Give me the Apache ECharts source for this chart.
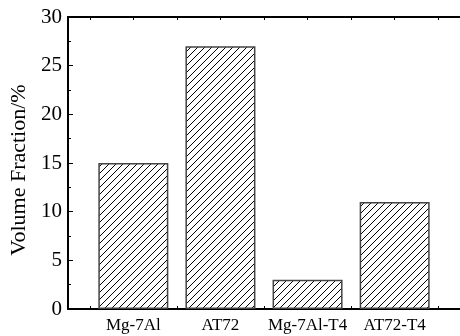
<!DOCTYPE html>
<html>
<head>
<meta charset="utf-8">
<script src="https://cdn.jsdelivr.net/npm/echarts@6/dist/echarts.min.js"></script>
<style>html,body{margin:0;padding:0;background:#fff;}#c{width:460px;height:336px;}</style>
</head>
<body>
<div id="c"></div>
<script>
const categories = ['Mg-7Al', 'AT72', 'Mg-7Al-T4', 'AT72-T4'];
const values = [15, 27, 3, 11];
const positions = [1, 2, 3, 4];
const xTickValues = [0.5, 1, 1.5, 2, 2.5, 3, 3.5, 4, 4.5];
const yTitle = 'Volume Fraction/%';

function hatch() {
  const s = 7;
  const c = document.createElement('canvas');
  c.width = s; c.height = s;
  const g = c.getContext('2d');
  g.fillStyle = '#fff';
  g.fillRect(0, 0, s, s);
  g.strokeStyle = '#000';
  g.lineWidth = 1;
  g.beginPath();
  g.moveTo(-1, s + 1); g.lineTo(s + 1, -1);
  g.moveTo(-1, 1); g.lineTo(1, -1);
  g.moveTo(s - 1, s + 1); g.lineTo(s + 1, s - 1);
  g.stroke();
  return c;
}

const font = 'Liberation Serif';
const chart = echarts.init(document.getElementById('c'), null, {renderer: 'canvas'});
const data = positions.map((p, i) => [p, values[i]]);
chart.setOption({
  animation: false,
  backgroundColor: '#fff',
  grid: {left: 67, right: -3, top: 17, bottom: 27, containLabel: false},
  xAxis: [{
    type: 'value', min: 0.25, max: 4.75, position: 'bottom',
    axisLine: {show: true, lineStyle: {color: '#000', width: 2}},
    axisTick: {show: true, inside: true, length: 3, customValues: xTickValues, lineStyle: {color: '#000', width: 1}},
    axisLabel: {show: true, customValues: positions, margin: 8, fontFamily: font, fontSize: 17, color: '#000',
      formatter: v => categories[positions.indexOf(Math.round(v))] || ''},
    splitLine: {show: false}
  }, {
    type: 'value', min: 0.25, max: 4.75, position: 'top',
    axisLine: {show: true, onZero: false, lineStyle: {color: '#000', width: 2}},
    axisTick: {show: true, inside: true, length: 3, customValues: xTickValues, lineStyle: {color: '#000', width: 1}},
    axisLabel: {show: false},
    splitLine: {show: false}
  }],
  yAxis: [{
    type: 'value', min: 0, max: 30, interval: 5,
    name: yTitle, nameLocation: 'middle', nameGap: 38,
    nameTextStyle: {fontFamily: font, fontSize: 22, color: '#000', padding: [0, 0, 0, -14]},
    axisLine: {show: true, lineStyle: {color: '#000', width: 2}},
    axisTick: {show: true, inside: true, length: 5, lineStyle: {color: '#000', width: 1}},
    minorTick: {show: true, splitNumber: 2, length: 3, lineStyle: {color: '#000', width: 1}},
    axisLabel: {margin: 6, fontFamily: font, fontSize: 21, color: '#000'},
    splitLine: {show: false}
  }],
  series: [{
    type: 'bar', xAxisIndex: 0, yAxisIndex: 0,
    data: data, barWidth: 70,
    itemStyle: {color: {image: hatch(), repeat: 'repeat'}, borderColor: '#444', borderWidth: 1.5}
  }]
});
</script>
</body>
</html>
